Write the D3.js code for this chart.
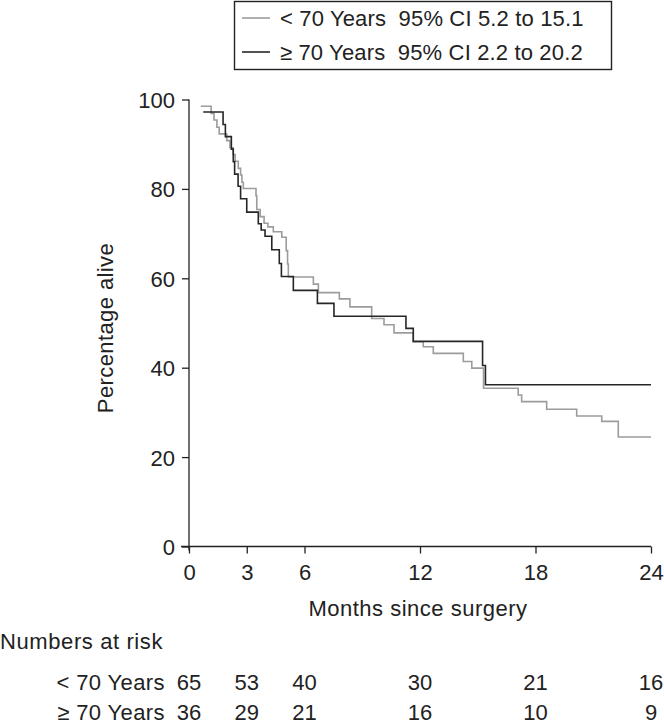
<!DOCTYPE html>
<html>
<head>
<meta charset="utf-8">
<script src="https://cdn.jsdelivr.net/npm/d3@7"></script>
<style>
  html, body { margin: 0; padding: 0; background: #fff; }
  svg { display: block; }
  text { font-family: "Liberation Sans", Arial, sans-serif; fill: #222; }
</style>
</head>
<body>
<svg id="chart" width="664" height="724"></svg>
<script>
// ---- data ----
const under70Times = [0.61, 1.15, 1.30, 1.45, 1.57, 1.96, 2.13, 2.29, 2.40, 2.56, 2.68, 2.75, 2.82, 3.48, 3.52, 3.70, 3.90, 4.10, 4.38, 4.82, 5.05, 5.12, 5.16, 6.46, 6.72, 7.81, 8.36, 9.49, 10.13, 10.65, 11.65, 12.17, 12.69, 14.25, 14.69, 15.30, 17.10, 17.28, 18.58, 20.14, 21.44, 22.30, 24.00];
const under70Values = [98.5, 96.9, 95.4, 93.8, 92.3, 90.8, 89.2, 87.7, 86.2, 84.6, 83.1, 81.5, 80.1, 78.5, 75.4, 73.8, 72.3, 71.5, 70.4, 69.2, 66.2, 63.2, 60.3, 58.7, 56.8, 55.4, 53.6, 51.0, 49.6, 47.8, 45.8, 44.7, 43.2, 41.4, 39.9, 35.4, 33.9, 32.4, 30.7, 29.2, 28.0, 24.5, 24.5];
const over70Times = [0.74, 1.77, 1.89, 2.20, 2.30, 2.37, 2.55, 2.68, 3.00, 3.60, 3.75, 3.95, 4.30, 4.69, 4.80, 5.42, 6.67, 7.53, 11.27, 11.65, 15.25, 15.40, 24.00];
const over70Values = [97.2, 94.4, 91.7, 88.9, 86.1, 83.3, 80.6, 77.8, 74.8, 72.2, 70.8, 69.4, 66.4, 63.3, 60.4, 57.3, 54.4, 51.5, 48.8, 45.9, 40.5, 36.2, 36.2];

const seriesNames = ["< 70 Years  95% CI 5.2 to 15.1", "\u2265 70 Years  95% CI 2.2 to 20.2"];
const seriesColors = ["#9c9c9c", "#262626"];
const xTicks = [0, 3, 6, 12, 18, 24];
const yTicks = [0, 20, 40, 60, 80, 100];
const riskGroups = ["< 70 Years", "\u2265 70 Years"];
const riskUnder70 = [65, 53, 40, 30, 21, 16];
const riskOver70 = [36, 29, 21, 16, 10, 9];

// ---- layout ----
const FONT = 22;
const svg = d3.select("#chart");
const x = d3.scaleLinear().domain([0, 24]).range([189, 651]);
const y = d3.scaleLinear().domain([0, 100]).range([546.5, 99.5]);

// axes
const gx = svg.append("g").attr("transform", `translate(0,${y(0)})`)
  .call(d3.axisBottom(x).tickValues(xTicks).tickSize(7).tickSizeOuter(0).tickPadding(11));
const gy = svg.append("g").attr("transform", `translate(${x(0)},0)`)
  .call(d3.axisLeft(y).tickValues(yTicks).tickSize(7).tickSizeOuter(0).tickPadding(7));
[gx, gy].forEach(g => {
  g.select(".domain").remove();
  g.selectAll("line").attr("stroke", "#222").attr("stroke-width", 1.3);
  g.selectAll("text").attr("font-size", FONT).attr("fill", "#222")
    .attr("font-family", '"Liberation Sans", Arial, sans-serif');
});
gy.selectAll("text").attr("dy", "0.36em");
// axis lines
svg.append("line").attr("x1", x(0) - 8).attr("x2", x(24)).attr("y1", y(0)).attr("y2", y(0))
  .attr("stroke", "#222").attr("stroke-width", 1.3);
svg.append("line").attr("x1", x(0)).attr("x2", x(0)).attr("y1", y(100)).attr("y2", y(0) + 4)
  .attr("stroke", "#222").attr("stroke-width", 1.3);

// axis titles
svg.append("text").attr("x", (x(0) + x(24)) / 2 - 2).attr("y", 616).attr("text-anchor", "middle")
  .attr("font-size", FONT).attr("letter-spacing", 0.5).text("Months since surgery");
svg.append("text").attr("transform", `translate(113,${(y(0) + y(100)) / 2 + 5}) rotate(-90)`)
  .attr("text-anchor", "middle").attr("font-size", FONT).attr("letter-spacing", 0.4).text("Percentage alive");

// curves
const line = d3.line().x(d => x(d[0])).y(d => y(d[1])).curve(d3.curveStepAfter);
const series = [
  d3.zip(under70Times, under70Values),
  d3.zip(over70Times, over70Values)
];
series.forEach((s, i) => {
  svg.append("path").datum(s).attr("d", line).attr("fill", "none")
    .attr("stroke", seriesColors[i]).attr("stroke-width", 1.6);
});

// legend
const lg = svg.append("g");
lg.append("rect").attr("x", 234.5).attr("y", 1.5).attr("width", 377).attr("height", 68)
  .attr("fill", "#fff").attr("stroke", "#222").attr("stroke-width", 1.4);
seriesNames.forEach((n, i) => {
  const yy = 18 + i * 34;
  lg.append("line").attr("x1", 242).attr("x2", 270).attr("y1", yy).attr("y2", yy)
    .attr("stroke", seriesColors[i]).attr("stroke-width", 1.6);
  lg.append("text").attr("x", 280).attr("y", yy + 8).attr("font-size", FONT)
    .attr("letter-spacing", 0.15).style("white-space", "pre").text(n);
});

// numbers at risk
svg.append("text").attr("x", 0).attr("y", 649).attr("font-size", FONT).attr("letter-spacing", 0.6)
  .text("Numbers at risk");
[riskUnder70, riskOver70].forEach((row, r) => {
  const yy = 690 + r * 30;
  svg.append("text").attr("x", 165).attr("y", yy).attr("text-anchor", "end")
    .attr("font-size", FONT).attr("letter-spacing", 0.4).text(riskGroups[r]);
  row.forEach((v, j) => {
    svg.append("text").attr("x", x(xTicks[j])).attr("y", yy)
      .attr("text-anchor", "middle").attr("font-size", FONT).text(v);
  });
});
</script>
</body>
</html>
